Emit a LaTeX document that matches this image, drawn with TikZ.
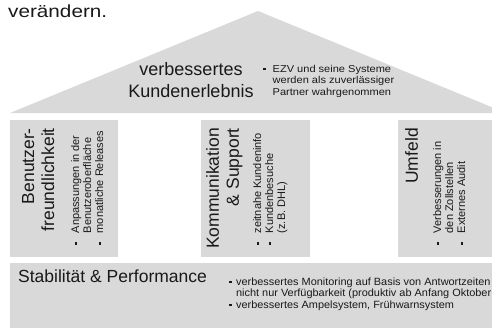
\documentclass[tikz,border=0pt]{standalone}
\usepackage{graphicx}
\usepackage{fontspec}
\setmainfont{Liberation Sans}
\usetikzlibrary{positioning}
\definecolor{housegray}{RGB}{217,217,217}
\definecolor{inkgray}{RGB}{25,25,25}
\newcommand{\bsq}{\rule[1.8pt]{2.6pt}{2.6pt}}
\newcommand{\blist}[2][7pt]{\begin{tabular}{@{}l@{\hspace{#1}}l@{}}#2\end{tabular}}
% text widened to a given width, height kept
\newcommand{\wide}[2]{\resizebox{#1}{\height}{#2}}
\tikzset{
  part/.style      = {fill=housegray, draw=none},
  heading/.style   = {font=\fontsize{18}{22}\selectfont, inner sep=0pt, text=inkgray},
  sidehead/.style  = {heading, font=\fontsize{17.5}{20}\selectfont, rotate=90, anchor=north east, align=right},
  note/.style      = {font=\fontsize{10}{11.5}\selectfont, inner sep=0pt, text=inkgray},
  sidenote/.style  = {note, font=\fontsize{11}{12}\selectfont, rotate=90, anchor=north west}
}

\begin{document}
\begin{tikzpicture}[x=1pt, y=-1pt]
\useasboundingbox (0,0) rectangle (492,327);
\clip (0,0) rectangle (492,327);

% roof, pillars and base
\fill[part] (10,113) -- (258,11) -- (506,113) -- cycle;
\fill[part] (10,120) rectangle (118,257);
\fill[part] (201,120) rectangle (310,257);
\fill[part] (398,120) rectangle (506,257);
\fill[part] (10,263) rectangle (506,330);

% text above the roof
\node[heading, font=\fontsize{17.5}{20}\selectfont, anchor=base west] (top) at (8,17) {\wide{99pt}{verändern.}};

% roof
\node[heading, align=center, anchor=north] (rooftitle) at (191,62) {verbessertes\\Kundenerlebnis};
\node[note, anchor=north west] (roofnote) at (263,64)
  {\wide{131pt}{\blist[6pt]{\bsq & EZV und seine Systeme\\ & werden als zuverlässiger\\ & Partner wahrgenommen}}};

% pillars, text turned upwards
\node[sidehead] (p1) at (22,128) {Benutzer-\\freundlichkeit};
\node[sidenote] (n1) at (70.6,245)
  {\blist[9pt]{\bsq & Anpassungen in der\\ & Benutzeroberfläche\\ \bsq & monatliche Releases}};

\node[sidehead] (p2) at (206,128) {Kommunikation\\\& Support};
\node[sidenote] (n2) at (252.6,245)
  {\blist[9pt]{\bsq & zeitnahe Kundeninfo\\ \bsq & Kundenbesuche\\ & (z.B. DHL)}};

\node[sidehead] (p3) at (405,128) {Umfeld};
\node[sidenote] (n3) at (432.6,245)
  {\blist[9pt]{\bsq & Verbesserungen in\\ & den Zollstellen\\ \bsq & Externes Audit}};

% base
\node[heading, font=\fontsize{17.5}{21}\selectfont, anchor=base west] (basetitle) at (18,282) {Stabilität \& Performance};
\node[note, font=\fontsize{10.5}{11.5}\selectfont, anchor=north west] (basenote) at (229,277)
  {\wide{262pt}{\blist[4pt]{\bsq & verbessertes Monitoring auf Basis von Antwortzeiten\\ & nicht nur Verfügbarkeit (produktiv ab Anfang Oktober\\ \bsq & verbessertes Ampelsystem, Frühwarnsystem}}};
\end{tikzpicture}
\end{document}
